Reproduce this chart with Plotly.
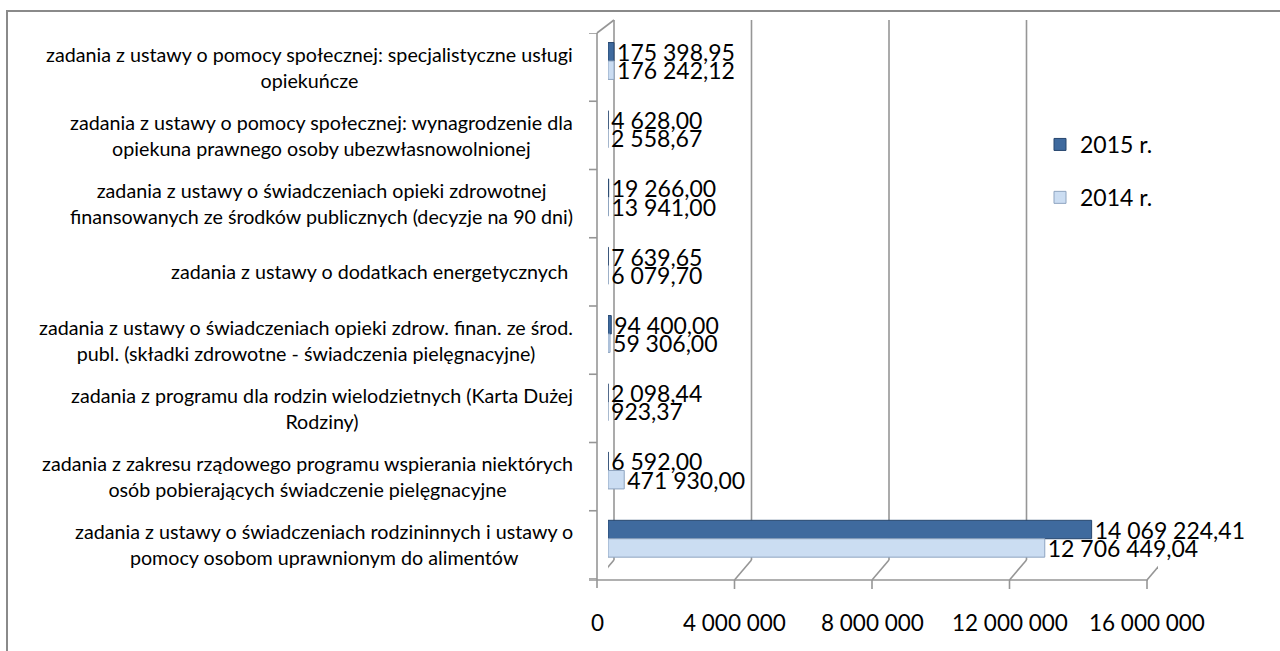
import plotly.graph_objects as go

categories = [
    "zadania z ustawy o pomocy społecznej: specjalistyczne usługi<br>opiekuńcze",
    "zadania z ustawy o pomocy społecznej: wynagrodzenie dla<br>opiekuna prawnego osoby ubezwłasnowolnionej",
    "zadania z ustawy o świadczeniach opieki zdrowotnej<br>finansowanych ze środków publicznych (decyzje na 90 dni)",
    "zadania z ustawy o dodatkach energetycznych ",
    "zadania z ustawy o świadczeniach opieki zdrow. finan. ze środ.<br>publ. (składki zdrowotne - świadczenia pielęgnacyjne)",
    "zadania z programu dla rodzin wielodzietnych (Karta Dużej<br>Rodziny)",
    "zadania z zakresu rządowego programu wspierania niektórych<br>osób pobierających świadczenie pielęgnacyjne",
    "zadania z ustawy o świadczeniach rodzininnych i ustawy o<br>pomocy osobom uprawnionym do alimentów",
]
values_2015 = [175398.95, 4628.00, 19266.00, 7639.65, 94400.00, 2098.44, 6592.00, 14069224.41]
values_2014 = [176242.12, 2558.67, 13941.00, 6079.70, 59306.00, 923.37, 471930.00, 12706449.04]
series_names = ["2015 r.", "2014 r."]
tick_values = [0, 4000000, 8000000, 12000000, 16000000]
tick_labels = ["0", "4 000 000", "8 000 000", "12 000 000", "16 000 000"]

FONT = "Lato"
W, H = 1280, 651
L, R, T, B = 608, 1158, 33, 579


def px(xp):
    return (xp - L) / (R - L)


def py(yp):
    return (B - yp) / (B - T)


def fmt(v):
    return f"{v:,.2f}".replace(",", " ").replace(".", ",")


n = len(categories)
pos = [n - 1 - i for i in range(n)]

fig = go.Figure()
fig.add_trace(go.Bar(
    name=series_names[0], y=pos, x=values_2015, orientation="h",
    width=0.27, offset=0.09,
    marker=dict(color="#3f6a9e", line=dict(color="#27466e", width=1)),
    text=[fmt(v) for v in values_2015], textposition="outside",
    textfont=dict(family=FONT, size=23, color="#000000"),
    constraintext="none", cliponaxis=False, legendgroup="a",
))
fig.add_trace(go.Bar(
    name=series_names[1], y=pos, x=values_2014, orientation="h",
    width=0.27, offset=-0.18,
    marker=dict(color="#cbddf2", line=dict(color="#8ea4c0", width=1)),
    text=[fmt(v) for v in values_2014], textposition="outside",
    textfont=dict(family=FONT, size=23, color="#000000"),
    constraintext="none", cliponaxis=False, legendgroup="b",
))

GRID = "#969696"
shapes = []
# outer chart frame
shapes.append(dict(type="rect", xref="paper", yref="paper",
                   x0=px(7), x1=px(1290), y0=py(660), y1=py(11),
                   line=dict(color="#8a8a8a", width=2), layer="below"))
for v in tick_values:
    # back wall gridline
    shapes.append(dict(type="line", xref="x", xsizemode="pixel", xanchor=v,
                       x0=6, x1=6, yref="paper", y0=py(560), y1=py(20),
                       line=dict(color=GRID, width=1.6), layer="below"))
    # floor connector
    shapes.append(dict(type="line", xref="x", xsizemode="pixel", xanchor=v,
                       x0=-11, x1=6, yref="paper", y0=py(580), y1=py(560),
                       line=dict(color=GRID, width=1.6), layer="below"))
    # front tick
    shapes.append(dict(type="line", xref="x", xsizemode="pixel", xanchor=v,
                       x0=-11, x1=-11, yref="paper", y0=py(580), y1=py(589),
                       line=dict(color=GRID, width=1.6), layer="below"))
# front axis line
shapes.append(dict(type="line", xref="paper", yref="paper",
                   x0=px(589), x1=px(1148), y0=py(580), y1=py(580),
                   line=dict(color=GRID, width=1.6), layer="below"))
# left wall front line
shapes.append(dict(type="line", xref="paper", yref="paper",
                   x0=px(597), x1=px(597), y0=py(33), y1=py(588),
                   line=dict(color=GRID, width=1.6), layer="below"))
# top connector
shapes.append(dict(type="line", xref="paper", yref="paper",
                   x0=px(597), x1=px(614), y0=py(33), y1=py(20),
                   line=dict(color=GRID, width=1.6), layer="below"))
# category separators (ticks)
for k in range(n + 1):
    shapes.append(dict(type="line", xref="paper", yref="y",
                       x0=px(589), x1=px(597), y0=k - 0.5, y1=k - 0.5,
                       line=dict(color=GRID, width=1.6), layer="below"))

annotations = []
for p, c in zip(pos, categories):
    annotations.append(dict(xref="paper", yref="y", x=px(575), y=p,
                            text=c, showarrow=False, xanchor="right",
                            yanchor="middle", align="center",
                            font=dict(family=FONT, size=19.7, color="#000000")))
for v, t in zip(tick_values, tick_labels):
    annotations.append(dict(xref="x", yref="paper", x=v, y=py(622), xshift=-11,
                            text=t, showarrow=False, xanchor="center",
                            yanchor="middle",
                            font=dict(family=FONT, size=22.5, color="#000000")))

fig.update_layout(
    width=W, height=H,
    margin=dict(l=L, r=W - R, t=T, b=H - B, pad=0),
    paper_bgcolor="white", plot_bgcolor="rgba(0,0,0,0)",
    barmode="overlay",
    xaxis=dict(range=[0, 16000000], showgrid=False, zeroline=False,
               showticklabels=False, ticks="", showline=False, fixedrange=True),
    yaxis=dict(range=[-0.5, n - 0.5], showgrid=False, zeroline=False,
               showticklabels=False, ticks="", showline=False, fixedrange=True),
    shapes=shapes,
    annotations=annotations,
    showlegend=True,
    legend=dict(x=px(1040), y=py(123), xanchor="left", yanchor="top",
                font=dict(family=FONT, size=23, color="#000000"),
                traceorder="grouped", tracegroupgap=20,
                bgcolor="rgba(0,0,0,0)"),
    font=dict(family=FONT),
)

fig.write_html("out.html", config={"displayModeBar": False},
               post_script="document.body.style.margin='0';document.body.style.padding='0';")
